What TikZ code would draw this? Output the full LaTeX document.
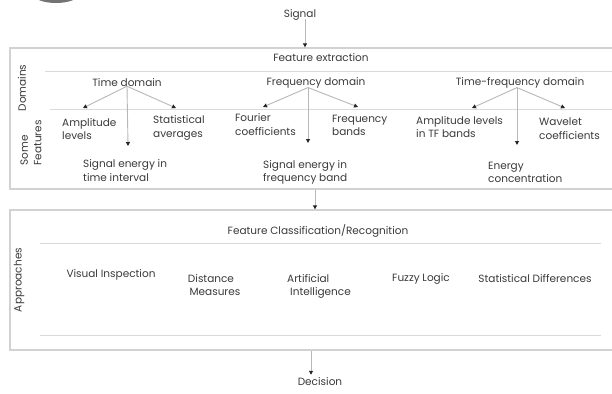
\documentclass[tikz,border=0pt]{standalone}
\usepackage{fontspec}
\setmainfont{Poppins}
\usetikzlibrary{arrows.meta}
\definecolor{txt}{HTML}{3A3A3A}
\definecolor{boxc}{HTML}{D2D2D2}
\definecolor{linec}{HTML}{DADADA}
\definecolor{conn}{HTML}{B8B8B8}
\tikzset{
  lbl/.style={inner sep=0pt, font=\fontsize{10.5}{13.5}\selectfont, text=txt},
  lft/.style={lbl, align=left, anchor=west},
  rot/.style={lbl, rotate=90, align=left},
  frame/.style={draw=boxc, line width=1.3pt, inner sep=0pt},
  sep/.style={draw=linec, line width=1pt},
  arr/.style={draw=conn, line width=0.9pt, -{Triangle[width=4pt,length=4pt,color=black!85]}},
}
\begin{document}
\begin{tikzpicture}[x=1pt,y=-1pt]
\useasboundingbox (0,0) rectangle (612,393);
\clip (0,0) rectangle (612,393);
\fill[white] (0,0) rectangle (612,393);
% decorative partial disc at top
\fill[black!55] (56,-6) ellipse [x radius=23, y radius=9];

% frames
\node[frame, minimum width=610, minimum height=141] (box1) at (315,118.5) {};
\node[frame, minimum width=610, minimum height=140] (box2) at (315,280) {};
\draw[sep] (45,72) -- (614,72);
\draw[sep] (50,109) -- (614,109);
\draw[sep] (40,243) -- (601,243);
\draw[sep] (40,335) -- (601,335);

% top / bottom
\node[lbl] (sig) at (300,15) {Signal};
\node[lbl] (fe) at (321,57.5) {Feature extraction};
\node[lbl] (fcr) at (318,231) {Feature Classification/Recognition};
\node[lbl] (dec) at (320,382) {Decision};

% side labels
\node[rot] (dom) at (22,88) {Domains};
\node[rot] (sf) at (31,143) {Some\\Features};
\node[rot] (app) at (19,280) {Approaches};

% domains
\node[lbl] (td) at (127,83) {Time domain};
\node[lbl] (fd) at (316,83) {Frequency domain};
\node[lbl] (tfd) at (520,83) {Time-frequency domain};

% features
\node[lft] (amp) at (62,129) {Amplitude\\levels};
\node[lft] (stat) at (153,128) {Statistical\\averages};
\node[lft] (set) at (83,170.5) {Signal energy in\\time interval};
\node[lft] (four) at (235,124.5) {Fourier\\coefficients};
\node[lft] (fb) at (332,125.5) {Frequency\\bands};
\node[lft] (sef) at (263,172.5) {Signal energy in\\frequency band};
\node[lft] (atf) at (416,127) {Amplitude levels\\in TF bands};
\node[lft] (wc) at (539,128.5) {Wavelet\\coefficients};
\node[lft] (ec) at (488,172.5) {Energy\\concentration};

% approaches
\node[lbl] (vi) at (111,275) {Visual Inspection};
\node[lbl, align=center] (dm) at (211,285) {Distance\\\hspace*{8pt}Measures};
\node[lft] (ai) at (287,286.5) {Artificial\\\hspace*{3pt}Intelligence};
\node[lbl] (fl) at (421,279) {Fuzzy Logic};
\node[lbl] (sd) at (535,279) {Statistical Differences};

% arrow end points
\coordinate (ampT) at (83,108);
\coordinate (statT) at (176,108);
\coordinate (setT) at (128,146);
\coordinate (fourT) at (263,107);
\coordinate (fbT) at (358,107);
\coordinate (sefT) at (308,143);
\coordinate (atfT) at (472,108);
\coordinate (wcT) at (565,108);
\coordinate (ecT) at (517,145);

% connectors
\draw[arr] ([xshift=5pt,yshift=2pt]sig.south) -- ([xshift=5pt]sig.south |- box1.north);
\draw[arr] ([yshift=1pt]td.south) -- (ampT);
\draw[arr] ([yshift=1pt]td.south) -- (statT);
\draw[arr] ([yshift=1pt]td.south) -- (setT);
\draw[arr] ([xshift=-8pt,yshift=1pt]fd.south) -- (fourT);
\draw[arr] ([xshift=-8pt,yshift=1pt]fd.south) -- (fbT);
\draw[arr] ([xshift=-8pt,yshift=1pt]fd.south) -- (sefT);
\draw[arr] ([xshift=-3pt,yshift=1pt]tfd.south) -- (atfT);
\draw[arr] ([xshift=-3pt,yshift=1pt]tfd.south) -- (wcT);
\draw[arr] ([xshift=-3pt,yshift=1pt]tfd.south) -- (ecT);
\draw[arr] (box1.south) -- (box2.north);
\draw[arr] ([xshift=-4pt]box2.south) -- ([xshift=-4pt,yshift=3pt]box2.south |- dec.north);
\end{tikzpicture}
\end{document}
